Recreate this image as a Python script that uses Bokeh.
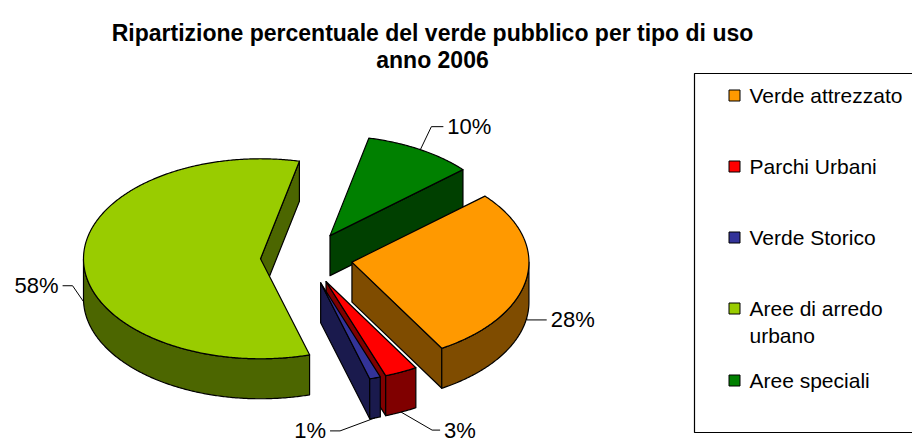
import numpy as np
from bokeh.plotting import figure
from bokeh.models import Range1d
from bokeh.core.properties import value
from bokeh.embed import file_html
from bokeh.resources import INLINE

# ---- data ----
categories = ["Verde attrezzato", "Parchi Urbani", "Verde Storico",
              "Aree di arredo urbano", "Aree speciali"]
legend_lines = [["Verde attrezzato"], ["Parchi Urbani"], ["Verde Storico"],
                ["Aree di arredo", "urbano"], ["Aree speciali"]]
values = [28, 3, 1, 58, 10]
top_colors = ["#FF9900", "#FF0000", "#333399", "#99CC00", "#008000"]
side_colors = ["#7F4C00", "#800000", "#1A1A4D", "#4C6600", "#004000"]
title_lines = ["Ripartizione percentuale del verde pubblico per tipo di uso", "anno 2006"]

# ---- layout / style ----
W, H = 912, 446
CX, CY = 306.0, 257.5      # pie centre (px)
RX, RY = 177.0, 100.0      # ellipse radii
DEPTH = 40.0
EXPLODE = 0.26
START = 48.7               # first slice angle, clockwise from 12 o'clock
FONT = "Liberation Sans"
# leader elbow offsets from anchor, horizontal tail length, text side
leader = [((0, 2), 20, 1), ((31, 18), 8, 1), ((-35, 13), -10, -1),
          ((-11, -16), -10, -1), ((11, -23), 12, 1)]

p = figure(width=W, height=H, x_range=Range1d(0, W), y_range=Range1d(H, 0),
           output_backend="svg", toolbar_location=None, min_border=0,
           background_fill_color="white", border_fill_color="white")
p.axis.visible = False
p.grid.visible = False
p.outline_line_color = None


def rim(ax, ay, th):
    t = np.radians(th)
    return ax + RX * np.sin(t), ay - RY * np.cos(t)


total = float(sum(values))
slices = []
a0 = START
for i, v in enumerate(values):
    span = 360.0 * v / total
    s, e = a0, a0 + span
    m = (s + e) / 2
    ax = CX + EXPLODE * RX * np.sin(np.radians(m))
    ay = CY - EXPLODE * RY * np.cos(np.radians(m))
    slices.append(dict(i=i, s=s, e=e, m=m, ax=ax, ay=ay))
    a0 = e

xs, ys, fills = [], [], []
order = sorted(slices, key=lambda d: -np.cos(np.radians(d["m"])))
for d in order:
    i, s, e, ax, ay = d["i"], d["s"], d["e"], d["ax"], d["ay"]
    # radial walls
    for th, vis in ((e, np.sin(np.radians(e)) > 0), (s, np.sin(np.radians(s)) < 0)):
        if vis:
            rx_, ry_ = rim(ax, ay, th)
            xs.append([ax, rx_, rx_, ax])
            ys.append([ay, ry_, ry_ + DEPTH, ay + DEPTH])
            fills.append(side_colors[i])
    # outer curved side (front half)
    for k in (-1, 0, 1):
        lo, hi = max(s, 90 + 360 * k), min(e, 270 + 360 * k)
        if hi > lo:
            th = np.linspace(lo, hi, max(3, int((hi - lo) * 2)))
            px, py = rim(ax, ay, th)
            xs.append(list(px) + list(px[::-1]))
            ys.append(list(py) + list((py + DEPTH)[::-1]))
            fills.append(side_colors[i])
    # top face
    th = np.linspace(s, e, max(3, int((e - s) * 2)))
    px, py = rim(ax, ay, th)
    xs.append([ax] + list(px))
    ys.append([ay] + list(py))
    fills.append(top_colors[i])

p.patches(xs, ys, fill_color=fills, line_color="black", line_width=1.2,
          line_join="round")

# ---- data labels with leaders ----
lx, ly, tx, ty, tt, ta = [], [], [], [], [], []
for d in slices:
    i = d["i"]
    bx, by = rim(d["ax"], d["ay"], d["m"])
    if np.cos(np.radians(d["m"])) < 0:
        by += DEPTH
    (ox, oy), tail, side = leader[i]
    ex, ey = bx + ox, by + oy
    fx = ex + tail
    lx.append([bx, ex, fx]); ly.append([by, ey, ey])
    tx.append(fx + 4 * side); ty.append(ey); tt.append(f"{values[i]}%")
    ta.append("left" if side > 0 else "right")
p.multi_line(lx, ly, line_color="black", line_width=1)
for x_, y_, t_, a_ in zip(tx, ty, tt, ta):
    p.text([x_], [y_], text=[t_], text_align=a_, text_baseline="middle",
           text_font=value(FONT), text_font_size="22px", text_color="black")

# ---- title ----
p.text([432, 432], [32, 59], text=title_lines, text_align="center",
       text_baseline="alphabetic", text_font=value(FONT), text_font_size="23px",
       text_font_style="bold", text_color="black")

# ---- legend ----
p.quad(left=[694], right=[920], top=[73], bottom=[432], fill_color=None,
       line_color="black", line_width=1.2)
row_y = [95, 166, 237, 308, 380]
p.rect(x=[734] * len(categories), y=row_y, width=11, height=11,
       fill_color=top_colors, line_color="black", line_width=1)
gx, gy, gt = [], [], []
for yy, lines in zip(row_y, legend_lines):
    for j, ln in enumerate(lines):
        gx.append(749); gy.append(yy + 27 * j); gt.append(ln)
p.text(gx, gy, text=gt, text_align="left", text_baseline="middle",
       text_font=value(FONT), text_font_size="21px", text_color="black")

open("out.html", "w").write(file_html(p, INLINE))
